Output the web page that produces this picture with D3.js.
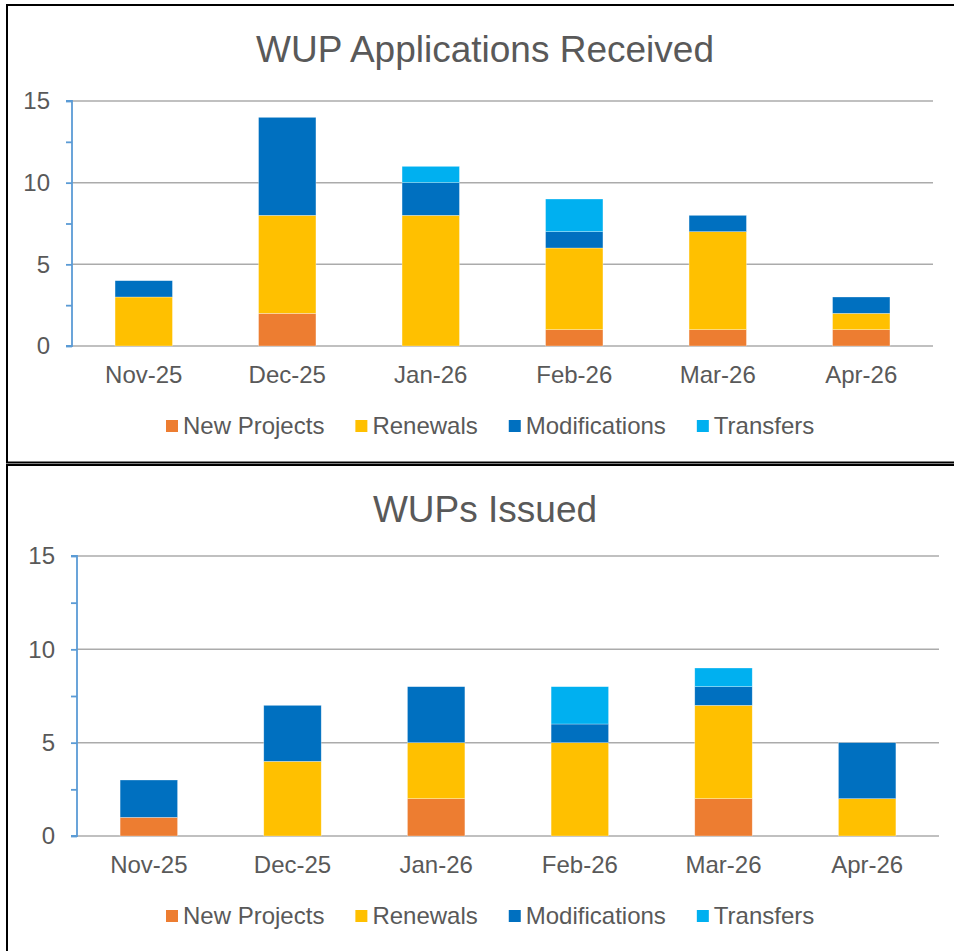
<!DOCTYPE html>
<html>
<head>
<meta charset="utf-8">
<script src="https://cdn.jsdelivr.net/npm/d3@7"></script>
<style>
  html, body { margin: 0; padding: 0; background: #fff; }
  svg { display: block; font-family: "Liberation Sans", Arial, sans-serif; }
</style>
</head>
<body>
<svg id="chart" width="954" height="951"></svg>
<script>
// ---- Data ----
const categories = ["Nov-25", "Dec-25", "Jan-26", "Feb-26", "Mar-26", "Apr-26"];
const seriesNames = ["New Projects", "Renewals", "Modifications", "Transfers"];
const seriesColors = ["#ED7D31", "#FFC000", "#0070C0", "#00B0F0"];
const yTickValues = [0, 5, 10, 15];

const receivedNewProjects   = [0, 2, 0, 1, 1, 1];
const receivedRenewals      = [3, 6, 8, 5, 6, 1];
const receivedModifications = [1, 6, 2, 1, 1, 1];
const receivedTransfers     = [0, 0, 1, 2, 0, 0];

const issuedNewProjects   = [1, 0, 2, 0, 2, 0];
const issuedRenewals      = [0, 4, 3, 5, 5, 2];
const issuedModifications = [2, 3, 3, 1, 1, 3];
const issuedTransfers     = [0, 0, 0, 2, 1, 0];

// ---- Drawing ----
const svg = d3.select("#chart");
const textColor = "#595959";

function buildRows(arrays) {
  return categories.map((c, i) => {
    const row = { category: c };
    seriesNames.forEach((s, j) => { row[s] = arrays[j][i]; });
    return row;
  });
}

function drawChart(cfg) {
  const g = svg.append("g");
  // panel border
  g.append("rect")
    .attr("x", cfg.panel.x).attr("y", cfg.panel.y)
    .attr("width", cfg.panel.w).attr("height", cfg.panel.h)
    .attr("fill", "none").attr("stroke", "#000").attr("stroke-width", 2);

  const x = d3.scaleBand().domain(categories)
    .range([cfg.left, cfg.right]).paddingInner(0.6).paddingOuter(0.3);
  const y = d3.scaleLinear().domain([0, 15]).range([cfg.bottom, cfg.top]);

  // gridlines
  g.append("g").selectAll("line").data(yTickValues).join("line")
    .attr("x1", cfg.left).attr("x2", cfg.right)
    .attr("y1", d => y(d)).attr("y2", d => y(d))
    .attr("stroke", "#ababab").attr("stroke-width", 1.5);

  // bars
  const rows = buildRows(cfg.values);
  const stack = d3.stack().keys(seriesNames)(rows);
  const bandW = x.bandwidth();
  g.append("g").selectAll("g").data(stack).join("g")
    .attr("fill", (d, i) => seriesColors[i])
    .selectAll("rect").data(d => d.filter(p => p[1] - p[0] > 0)).join("rect")
    .attr("x", d => x(d.data.category))
    .attr("width", bandW)
    .attr("y", d => y(d[1]))
    .attr("height", d => y(d[0]) - y(d[1]))
    .attr("stroke", "rgba(255,255,255,0.5)").attr("stroke-width", 0.6);

  // y axis
  const yAxis = d3.axisLeft(y).tickValues(d3.range(0, 15.01, 2.5)).tickSize(6).tickFormat("");
  const ya = g.append("g").attr("transform", `translate(${cfg.left},0)`).call(yAxis);
  ya.select(".domain").attr("stroke", "#5B9BD5").attr("stroke-width", 1.8).attr("d", `M-6,${y(15)}H0V${y(0)}H-6`);
  ya.selectAll(".tick line").attr("stroke", "#5B9BD5").attr("stroke-width", 1.8);

  // y labels
  g.append("g").selectAll("text").data(yTickValues).join("text")
    .attr("x", cfg.left - 22).attr("y", d => y(d))
    .attr("dy", "0.35em").attr("text-anchor", "end")
    .attr("font-size", 24).attr("fill", textColor)
    .text(d => d);

  // x labels
  g.append("g").selectAll("text").data(categories).join("text")
    .attr("x", d => x(d) + bandW / 2).attr("y", cfg.bottom + 37)
    .attr("text-anchor", "middle")
    .attr("font-size", 24).attr("fill", textColor)
    .text(d => d);

  // title
  g.append("text")
    .attr("x", 485).attr("y", cfg.titleY)
    .attr("text-anchor", "middle")
    .attr("font-size", 37).attr("fill", textColor)
    .text(cfg.title);

  // legend
  const lg = g.append("g").attr("transform", `translate(0,${cfg.legendY})`);
  let cx = 166;
  seriesNames.forEach((s, i) => {
    lg.append("rect").attr("x", cx).attr("y", -6).attr("width", 12).attr("height", 12)
      .attr("fill", seriesColors[i]);
    const t = lg.append("text").attr("x", cx + 17).attr("y", 0).attr("dy", "0.35em")
      .attr("font-size", 24).attr("fill", textColor).text(s);
    const w = t.node().getComputedTextLength();
    cx += 17 + w + 31;
  });
}

drawChart({
  title: "WUP Applications Received",
  values: [receivedNewProjects, receivedRenewals, receivedModifications, receivedTransfers],
  panel: { x: 7, y: 5, w: 960, h: 457.5 },
  left: 72, right: 933, top: 101, bottom: 346,
  titleY: 62, legendY: 426
});

drawChart({
  title: "WUPs Issued",
  values: [issuedNewProjects, issuedRenewals, issuedModifications, issuedTransfers],
  panel: { x: 7, y: 465, w: 960, h: 500 },
  left: 77, right: 939, top: 556, bottom: 836,
  titleY: 522, legendY: 916
});
</script>
</body>
</html>
